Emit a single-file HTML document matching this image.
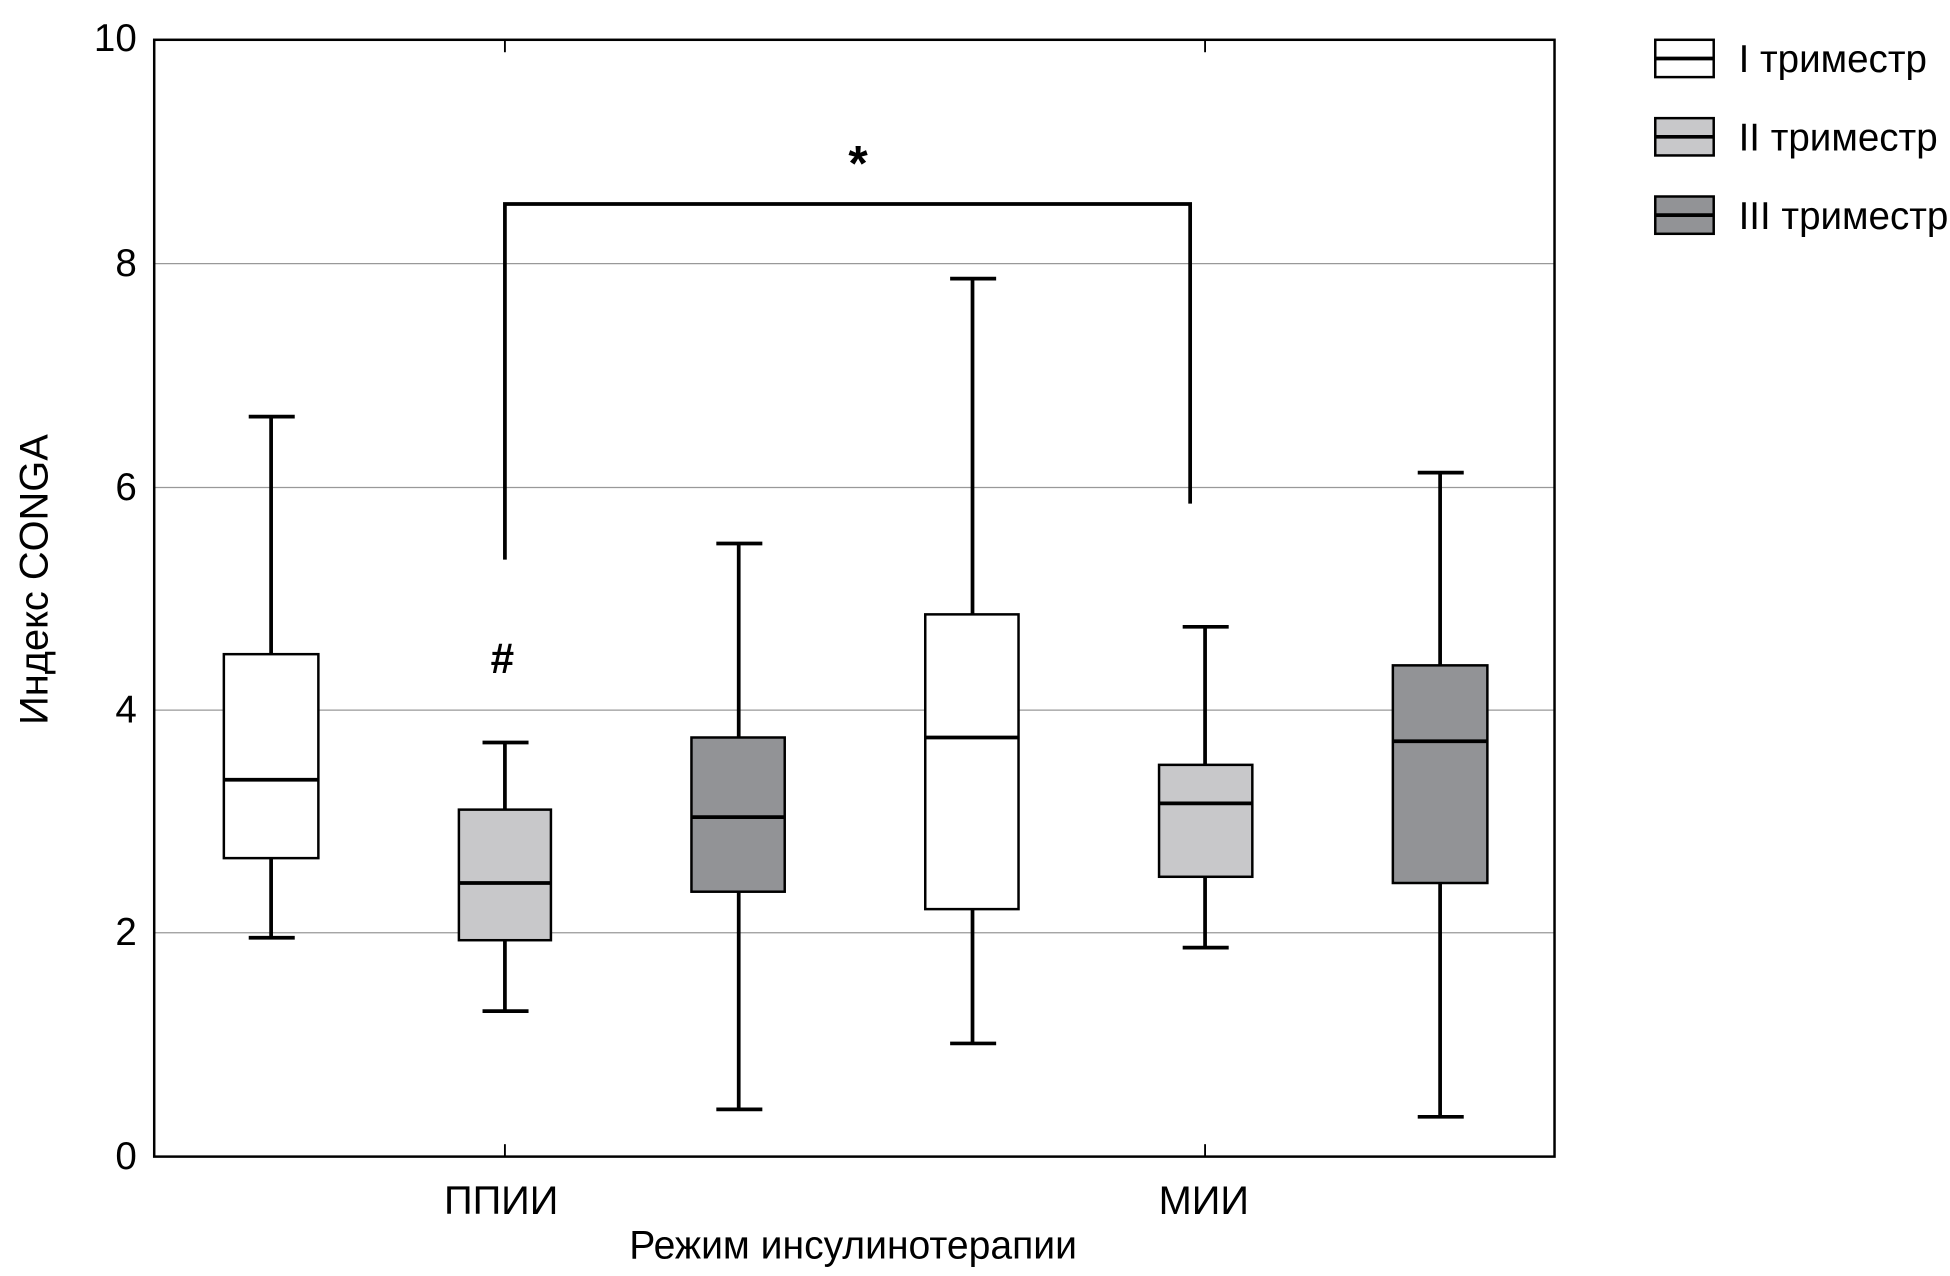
<!DOCTYPE html>
<html><head><meta charset="utf-8"><style>
html,body{margin:0;padding:0;background:#fff;}
svg{display:block;}
text{font-family:"Liberation Sans Narrow","Liberation Sans",sans-serif;fill:#000;}
</style></head><body>
<svg width="1950" height="1276" viewBox="0 0 1568 1026" preserveAspectRatio="none" xmlns="http://www.w3.org/2000/svg">
<rect x="0" y="0" width="1568" height="1026" fill="#fff"/>
<g stroke="#999" stroke-width="1">
<line x1="124" y1="212" x2="1250" y2="212"/>
<line x1="124" y1="392" x2="1250" y2="392"/>
<line x1="124" y1="571" x2="1250" y2="571"/>
<line x1="124" y1="750" x2="1250" y2="750"/>
</g>
<rect x="124" y="32" width="1126" height="898" fill="none" stroke="#000" stroke-width="2"/>
<g stroke="#000" stroke-width="1.5">
<line x1="406" y1="930" x2="406" y2="920"/><line x1="969" y1="930" x2="969" y2="920"/>
<line x1="406" y1="32" x2="406" y2="42"/><line x1="969" y1="32" x2="969" y2="42"/>
</g>
<g font-size="31" text-anchor="end">
<text x="110" y="41">10</text><text x="110" y="222">8</text><text x="110" y="402">6</text>
<text x="110" y="581">4</text><text x="110" y="760">2</text><text x="110" y="940">0</text>
</g>
<g stroke="#000" stroke-width="3">
<line x1="218" y1="335" x2="218" y2="754"/><line x1="200" y1="335" x2="237" y2="335"/><line x1="200" y1="754" x2="237" y2="754"/>
<rect x="180" y="526" width="76" height="164" fill="#fff" stroke-width="2"/><line x1="180" y1="627" x2="256" y2="627"/>
<line x1="406" y1="597" x2="406" y2="813"/><line x1="388" y1="597" x2="425" y2="597"/><line x1="388" y1="813" x2="425" y2="813"/>
<rect x="369" y="651" width="74" height="105" fill="#c8c8ca" stroke-width="2"/><line x1="369" y1="710" x2="443" y2="710"/>
<line x1="594" y1="437" x2="594" y2="892"/><line x1="576" y1="437" x2="613" y2="437"/><line x1="576" y1="892" x2="613" y2="892"/>
<rect x="556" y="593" width="75" height="124" fill="#929396" stroke-width="2"/><line x1="556" y1="657" x2="631" y2="657"/>
<line x1="782" y1="224" x2="782" y2="839"/><line x1="764" y1="224" x2="801" y2="224"/><line x1="764" y1="839" x2="801" y2="839"/>
<rect x="744" y="494" width="75" height="237" fill="#fff" stroke-width="2"/><line x1="744" y1="593" x2="819" y2="593"/>
<line x1="969" y1="504" x2="969" y2="762"/><line x1="951" y1="504" x2="988" y2="504"/><line x1="951" y1="762" x2="988" y2="762"/>
<rect x="932" y="615" width="75" height="90" fill="#c8c8ca" stroke-width="2"/><line x1="932" y1="646" x2="1007" y2="646"/>
<line x1="1158" y1="380" x2="1158" y2="898"/><line x1="1140" y1="380" x2="1177" y2="380"/><line x1="1140" y1="898" x2="1177" y2="898"/>
<rect x="1120" y="535" width="76" height="175" fill="#929396" stroke-width="2"/><line x1="1120" y1="596" x2="1196" y2="596"/>
<polyline points="406,450 406,164 957,164 957,405" fill="none"/>
</g>
<text x="690" y="145" font-size="40" font-weight="bold" text-anchor="middle">*</text>
<text x="404" y="541" font-size="34" font-weight="bold" text-anchor="middle">#</text>
<g font-size="32" text-anchor="middle">
<text x="403" y="976">ППИИ</text><text x="968" y="976">МИИ</text>
<text x="686" y="1012" textLength="360" lengthAdjust="spacingAndGlyphs">Режим инсулинотерапии</text>
<text transform="translate(38,466) rotate(-90)">Индекс CONGA</text>
</g>
<g stroke="#000" stroke-width="2">
<rect x="1331" y="32" width="47" height="30" fill="#fff"/><line x1="1331" y1="47" x2="1378" y2="47" stroke-width="3"/>
<rect x="1331" y="95" width="47" height="30" fill="#c8c8ca"/><line x1="1331" y1="110" x2="1378" y2="110" stroke-width="3"/>
<rect x="1331" y="158" width="47" height="30" fill="#929396"/><line x1="1331" y1="173" x2="1378" y2="173" stroke-width="3"/>
</g>
<g font-size="31">
<text x="1398" y="58">I триместр</text>
<text x="1398" y="121">II триместр</text>
<text x="1398" y="184">III триместр</text>
</g>
</svg>
</body></html>
